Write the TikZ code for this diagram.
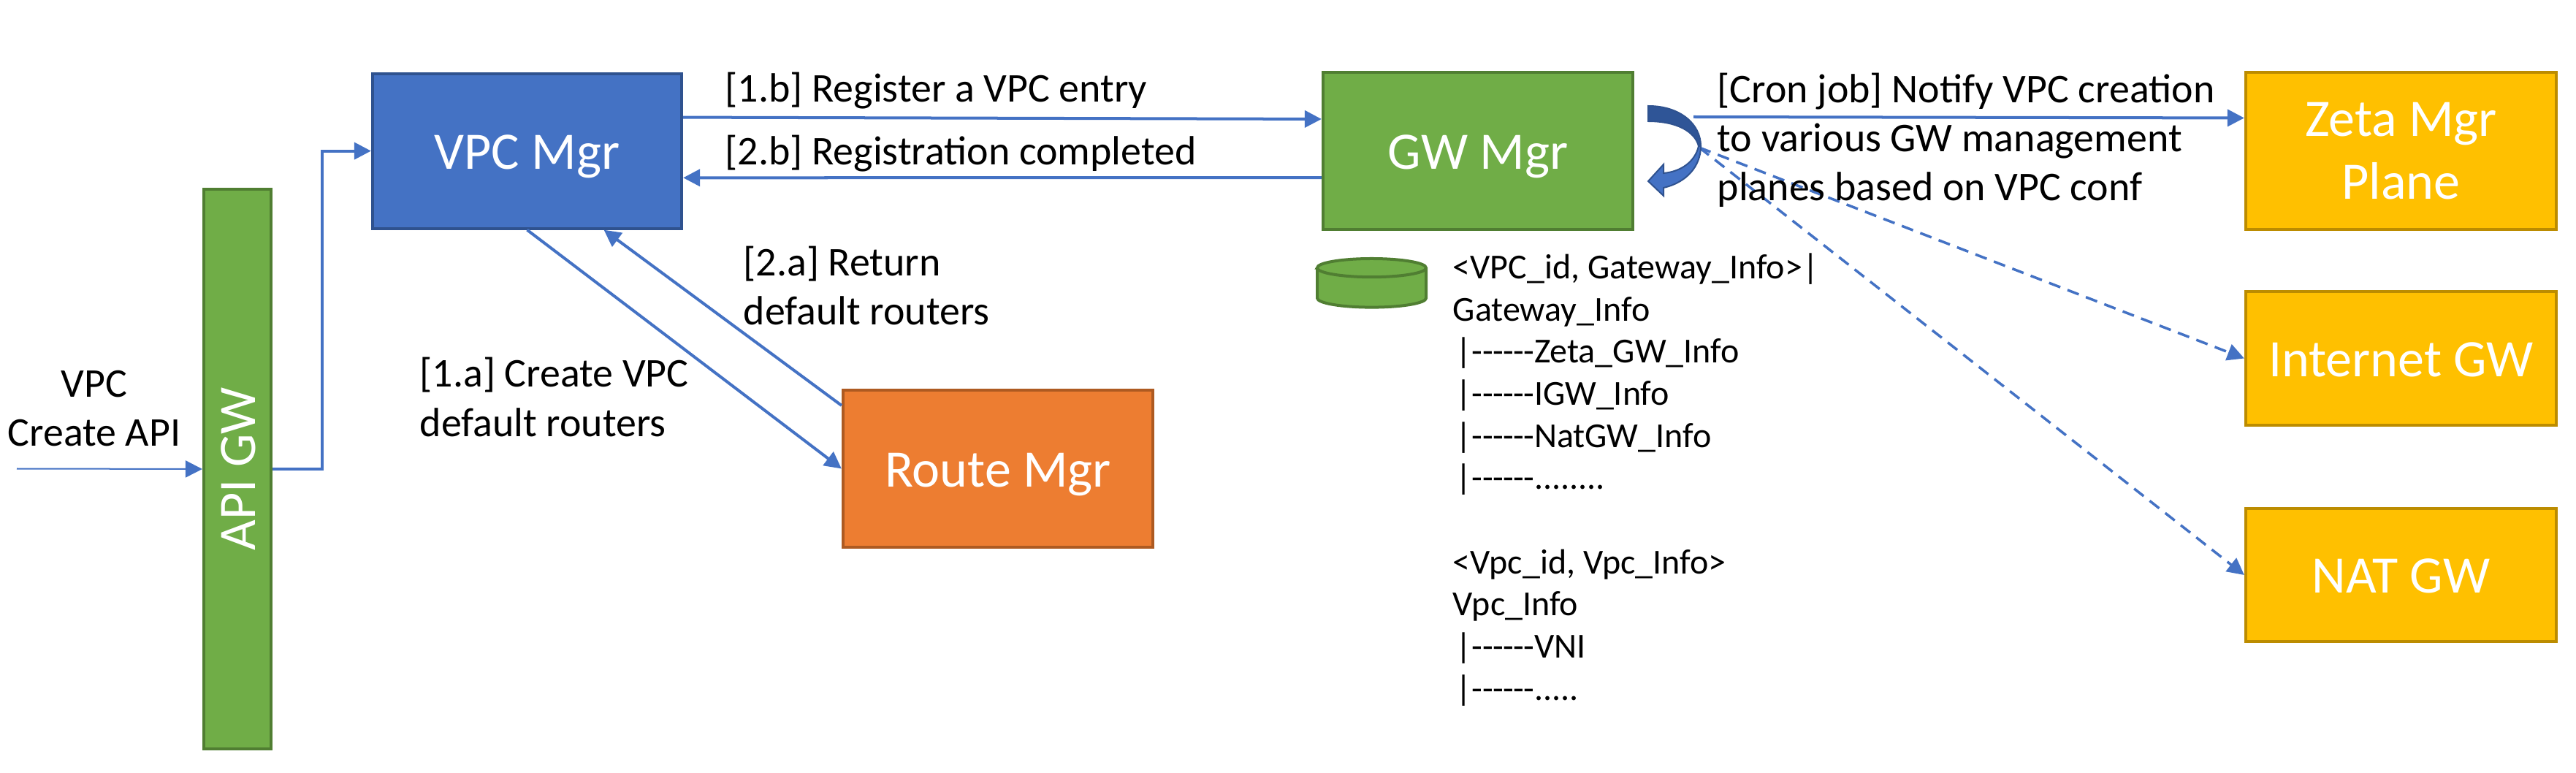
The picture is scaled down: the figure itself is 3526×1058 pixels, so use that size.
\documentclass[tikz,border=0pt]{standalone}
\usepackage{fontspec}
\usetikzlibrary{arrows.meta}
\setmainfont{Carlito}

\definecolor{vpcblue}{HTML}{4472C4}
\definecolor{vpcline}{HTML}{2F528F}
\definecolor{curveblue}{HTML}{2F5597}
\definecolor{gwgreen}{HTML}{70AD47}
\definecolor{gwline}{HTML}{507E32}
\definecolor{routeorange}{HTML}{ED7D31}
\definecolor{routeline}{HTML}{AE5A21}
\definecolor{planegold}{HTML}{FFC000}
\definecolor{planeline}{HTML}{BC8C00}

\newcommand{\onedash}{-\kern-0.005cm{}}
\newcommand{\dashrun}{\hspace{0.04cm}|\onedash\onedash\onedash\onedash\onedash\onedash}

\tikzset{
    mgrbox/.style={draw, line width=0.04cm, text=white, align=center, inner sep=0pt,
        font=\fontsize{20.5pt}{24.5pt}\selectfont},
    oneline/.style={text height=0.58cm, text depth=0.09cm},
    gwbox/.style={mgrbox, oneline, fill=gwgreen, draw=gwline},
    planebox/.style={mgrbox, fill=planegold, draw=planeline, minimum width=4.25cm},
    dbdisk/.style={draw=gwline, fill=gwgreen, line width=0.04cm},
    flow/.style={draw=vpcblue, line width=0.04cm, -{Triangle[length=0.23cm,width=0.23cm]}},
    dashflow/.style={flow, line width=0.035cm, dash pattern=on 0.165cm off 0.105cm},
    lbl/.style={font=\fontsize{15.9pt}{19.1pt}\selectfont, align=left, inner sep=0pt, anchor=base west},
    datatext/.style={font=\fontsize{13.66pt}{16.4pt}\selectfont, align=left, inner sep=0pt, anchor=north west}
}

\begin{document}
\begin{tikzpicture}[x=0.01cm,y=-0.01cm]
    \useasboundingbox (0,0) rectangle (3526,1058);

    \node[gwbox, rotate=90, minimum width=7.665cm, minimum height=0.92cm] (apigw) at (325,642) {API GW};
    \node[mgrbox, oneline, fill=vpcblue, draw=vpcline, minimum width=4.23cm, minimum height=2.12cm] (vpc) at (721.5,206.6) {VPC Mgr};
    \node[gwbox, minimum width=4.24cm, minimum height=2.15cm] (gw) at (2023,206.5) {GW Mgr};
    \node[mgrbox, oneline, fill=routeorange, draw=routeline, minimum width=4.24cm, minimum height=2.15cm] (route) at (1366,641.5) {Route Mgr};
    \node[planebox, minimum height=2.146cm] (zeta) at (3286.5,206.3) {Zeta Mgr\\Plane};
    \node[planebox, oneline, minimum height=1.83cm] (igw) at (3286.5,490.5) {Internet GW};
    \node[planebox, oneline, minimum height=1.82cm] (nat) at (3286.5,787) {NAT GW};

    \draw[dbdisk] (1803,366.6) -- (1803,408) arc[start angle=180,end angle=360,x radius=0.745cm,y radius=0.126cm]
        -- (1952,366.6) arc[start angle=0,end angle=180,x radius=0.745cm,y radius=0.126cm] -- cycle;
    \draw[dbdisk] (1803,366.6) arc[start angle=180,end angle=360,x radius=0.745cm,y radius=0.126cm];

    \coordinate (apiin) at (23,641.5);
    \coordinate (cronstart) at (2318,160);
    \coordinate (fanout) at (2326,202);

    \draw[flow, line width=0.02cm] (apiin) -- (apigw.north);
    \draw[flow] (apigw.south) -- ++(68,0) |- (vpc.west);
    \draw[flow] ([yshift=0.46cm]vpc.east) -- ([yshift=0.435cm]gw.west);
    \draw[flow] ([yshift=-0.365cm]gw.west) -- ([yshift=-0.367cm]vpc.east);
    \draw[flow] (vpc.south) -- (route.west);
    \draw[flow] ([yshift=0.865cm]route.west) -- ([xshift=1.05cm]vpc.south);
    \draw[flow] (cronstart) -- ([yshift=0.448cm]zeta.west);
    \draw[dashflow] (fanout) -- (igw.west);
    \draw[dashflow] (fanout) -- (nat.west);

    \fill[curveblue, draw=vpcline, line width=0.02cm] (2256,145) .. controls (2300,145) and (2328,170) .. (2328,200)
        -- (2325,200) .. controls (2320,180) and (2295,166) .. (2256,166) -- cycle;
    \fill[vpcblue, draw=vpcline, line width=0.02cm] (2328,200) .. controls (2328,228) and (2308,250) .. (2277,257)
        -- (2277,268) -- (2256,248) -- (2277,225) -- (2277,237) .. controls (2300,235) and (2320,222) .. (2325,200) -- cycle;

    \node[lbl, align=center, anchor=base] (apilbl) at (129,611) {VPC\\Create API};
    \node[lbl] (lblonea) at (574,597) {[1.a] Create VPC\\default routers};
    \node[lbl] (lbltwoa) at (1017,445) {[2.a] Return\\default routers};
    \node[lbl] (lbloneb) at (992,140) {[1.b] Register a VPC entry};
    \node[lbl] (lbltwob) at (992,226) {[2.b] Registration completed};
    \node[lbl] (lblcron) at (2350,275) {[Cron job] Notify VPC creation\\to various GW management\\planes based on VPC conf};
    \node[datatext] (dbtext) at (1988,346) {<VPC\_id, Gateway\_Info>|\\Gateway\_Info\\
        \dashrun Zeta\_GW\_Info\\
        \dashrun IGW\_Info\\
        \dashrun NatGW\_Info\\
        \dashrun ........\\[0.577cm]
        <Vpc\_id, Vpc\_Info>\\Vpc\_Info\\
        \dashrun VNI\\
        \dashrun .....};
\end{tikzpicture}
\end{document}
